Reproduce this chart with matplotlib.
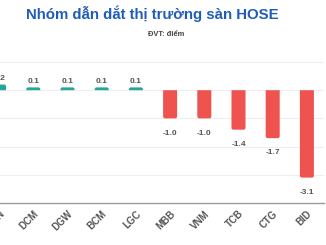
import matplotlib
matplotlib.use("Agg")
import matplotlib.pyplot as plt
from matplotlib.path import Path
from matplotlib.patches import PathPatch

plt.rcParams['font.family'] = ['Liberation Sans', 'DejaVu Sans']

categories = ["HDN", "DCM", "DGW", "BCM", "LGC", "MBB", "VNM", "TCB", "CTG", "BID"]
values = [0.2, 0.1, 0.1, 0.1, 0.1, -1.0, -1.0, -1.4, -1.7, -3.1]
labels = ["0.2", "0.1", "0.1", "0.1", "0.1", "-1.0", "-1.0", "-1.4", "-1.7", "-3.1"]
title = "Nhóm dẫn dắt thị trường sàn HOSE"
subtitle = "ĐVT: điểm"

pos_color = "#26a69a"
neg_color = "#ef5350"

W, H = 326, 245
fig = plt.figure(figsize=(W / 100, H / 100), dpi=100)
ax_left_px, ax_right_px = -18, 324
ax_top_px, ax_bot_px = 62, 203
ax = fig.add_axes([ax_left_px / W, (H - ax_bot_px) / H,
                   (ax_right_px - ax_left_px) / W, (ax_bot_px - ax_top_px) / H])

x = list(range(len(categories)))
colors = [pos_color if v >= 0 else neg_color for v in values]
bar_w = 0.41
bars = ax.bar(x, values, width=bar_w, color=colors, zorder=3)

ax.set_xlim(-0.5, len(categories) - 0.5)
ax.set_ylim(-4, 1)

# rounded far-end corners
bb = ax.get_window_extent()
px_x = (ax.get_xlim()[1] - ax.get_xlim()[0]) / bb.width
px_y = (ax.get_ylim()[1] - ax.get_ylim()[0]) / bb.height
r = 2.0
for rect, v, c in zip(bars, values, colors):
    rect.set_visible(False)
    x0 = rect.get_x()
    x1 = x0 + rect.get_width()
    s = 1 if v >= 0 else -1
    rx = r * px_x
    ry = min(r * px_y, abs(v) * 0.9)
    inner = v - s * ry
    verts = [(x0, 0), (x0, inner), (x0, v), (x0 + rx, v), (x1 - rx, v),
             (x1, v), (x1, inner), (x1, 0), (x0, 0)]
    codes = [Path.MOVETO, Path.LINETO, Path.CURVE3, Path.CURVE3, Path.LINETO,
             Path.CURVE3, Path.CURVE3, Path.LINETO, Path.CLOSEPOLY]
    ax.add_patch(PathPatch(Path(verts, codes), facecolor=c, edgecolor="none", zorder=3))

ax.set_yticks([1, 0, -1, -2, -3])
ax.yaxis.grid(True, color="#eeeeee", linewidth=0.8, zorder=0)
ax.tick_params(axis='y', length=0, labelleft=False)
for s in ["top", "right", "left"]:
    ax.spines[s].set_visible(False)
ax.spines["bottom"].set_color("#999999")
ax.spines["bottom"].set_linewidth(1.0)

ax.set_xticks(x)
ax.set_xticklabels(categories, rotation=45, ha="right", va="top",
                   rotation_mode="anchor", fontsize=7, fontweight="bold", color="#555555")
ax.tick_params(axis='x', length=0, pad=4)

for xi, v, lab in zip(x, values, labels):
    if v >= 0:
        ax.annotate(lab, (xi, v), xytext=(0, 2), textcoords="offset points",
                    ha="center", va="bottom", fontsize=6, fontweight="bold", color="#555555")
    else:
        ax.annotate(lab, (xi, v), xytext=(0, -8), textcoords="offset points",
                    ha="center", va="top", fontsize=6, fontweight="bold", color="#555555")

fig.text(152.5 / W, 1 - 14 / H, title, ha="center", va="center",
         fontsize=10.8, fontweight="bold", color="#1f5cb8")
fig.text(166 / W, 1 - 35 / H, subtitle, ha="center", va="center",
         fontsize=5.4, fontweight="bold", color="#444444")

fig.savefig("out.png", dpi=100)
